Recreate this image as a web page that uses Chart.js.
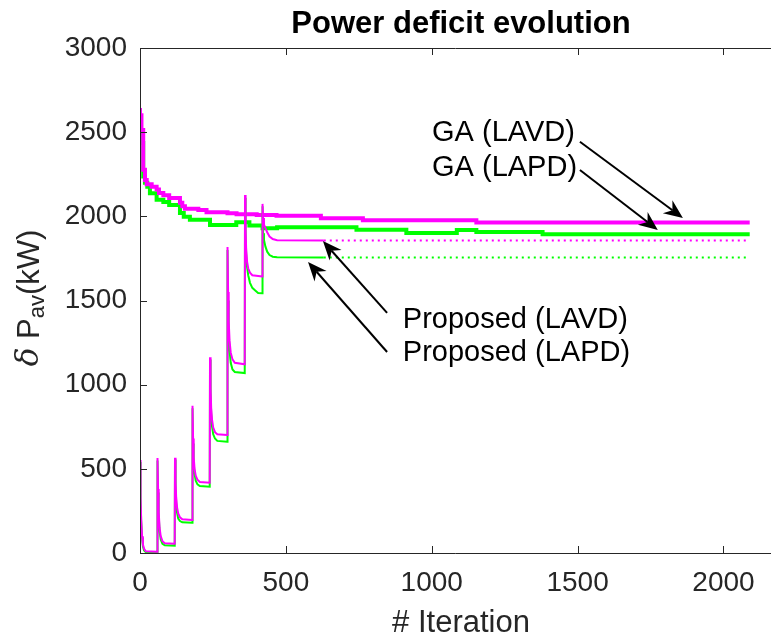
<!DOCTYPE html>
<html>
<head>
<meta charset="utf-8">
<script src="https://cdn.jsdelivr.net/npm/chart.js@4.4.1/dist/chart.umd.min.js"></script>
<style>
  html, body { margin: 0; padding: 0; background: #fff; }
  canvas { display: block; }
</style>
</head>
<body>
<canvas id="deficitChart" width="771" height="639"></canvas>
<script>
// GA best-so-far curves (stepped)
const gaLavdIter = [0, 5, 11, 17, 23, 40, 57, 65, 80, 100, 137, 145, 154, 200, 228, 300, 331, 400, 468, 620, 764, 1153, 1552, 2090];
const gaLavdVal  = [2644, 2600, 2513, 2276, 2216, 2190, 2176, 2160, 2139, 2125, 2109, 2080, 2060, 2045, 2038, 2025, 2018, 2012, 2008, 2004, 1989, 1976, 1963, 1963];

const gaLapdIter = [0, 6, 11, 17, 25, 34, 57, 80, 100, 137, 150, 171, 240, 330, 375, 420, 470, 742, 913, 1086, 1153, 1380, 1558, 2090];
const gaLapdVal  = [2555, 2500, 2436, 2236, 2200, 2176, 2137, 2099, 2085, 2068, 2020, 1998, 1979, 1948, 1965, 1945, 1929, 1935, 1921, 1901, 1919, 1907, 1894, 1894];

// proposed method (restarts every 60 iterations)
const propLavdIter = [0, 2, 4, 7, 10, 14, 20, 59,
  60, 62, 64, 67, 71, 77, 85, 119,
  120, 122, 124, 127, 131, 137, 145, 179,
  180, 182, 184, 187, 191, 197, 205, 239,
  240, 242, 244, 247, 251, 257, 265, 299,
  300, 302, 304, 307, 311, 317, 325, 359,
  360, 362, 364, 367, 371, 377, 385, 419,
  420, 422, 425, 430, 436, 444, 455, 470, 630];
const propLavdVal = [552, 330, 200, 100, 50, 25, 10, 8,
  564, 380, 250, 150, 100, 70, 58, 55,
  566, 420, 330, 270, 235, 212, 200, 196,
  875, 680, 570, 500, 460, 435, 422, 418,
  1163, 980, 860, 790, 745, 718, 706, 701,
  1818, 1550, 1380, 1260, 1190, 1150, 1130, 1121,
  2127, 1920, 1800, 1730, 1690, 1665, 1650, 1642,
  2074, 1990, 1950, 1930, 1905, 1880, 1865, 1858, 1856];

const propLapdIter = [0, 2, 4, 7, 10, 14, 20, 59,
  60, 62, 64, 67, 71, 77, 85, 119,
  120, 122, 124, 127, 131, 137, 145, 179,
  180, 182, 184, 187, 191, 197, 205, 239,
  240, 242, 244, 247, 251, 257, 265, 299,
  300, 302, 304, 307, 311, 317, 325, 359,
  360, 362, 364, 367, 371, 377, 385, 395, 405, 419,
  420, 422, 425, 430, 436, 444, 455, 470, 630];
const propLapdVal = [540, 320, 190, 90, 40, 15, 5, 3,
  550, 360, 230, 130, 80, 55, 46, 44,
  555, 400, 300, 240, 205, 190, 182, 180,
  860, 650, 540, 470, 430, 408, 398, 394,
  1150, 950, 830, 750, 705, 680, 666, 661,
  1800, 1500, 1320, 1200, 1130, 1090, 1075, 1069,
  2110, 1900, 1780, 1700, 1650, 1605, 1575, 1560, 1545, 1543,
  2060, 1900, 1860, 1820, 1790, 1770, 1760, 1757, 1755];

// converged level held after the proposed method stops
const holdIter = [630, 2090];
const holdLavd = [1856, 1856];
const holdLapd = [1755, 1755];

const xTicks = [0, 500, 1000, 1500, 2000];
const yTicks = [0, 500, 1000, 1500, 2000, 2500, 3000];

// text labels with arrows, in data units
const noteText = ["GA (LAVD)", "GA (LAPD)", "Proposed (LAVD)", "Proposed (LAPD)"];
const noteIter = [1001, 1001, 901, 901];
const noteVal  = [2495, 2287, 1384, 1188];
const arrowFromIter = [1508, 1508, 847, 847];
const arrowFromVal  = [2443, 2275, 1426, 1194];
const arrowToIter   = [1861, 1775, 627, 576];
const arrowToVal    = [1990, 1919, 1853, 1729];

const MAGENTA = "#ff00ff";
const GREEN = "#00ff00";
const INK = "#262626";
const FONT = "'Liberation Sans', Arial, Helvetica, sans-serif";

function pts(xs, ys) {
  return xs.map((x, i) => ({ x: x, y: ys[i] }));
}

function drawArrow(ctx, x0, y0, x1, y1) {
  const ang = Math.atan2(y1 - y0, x1 - x0);
  const len = 19, half = 8, back = 13;
  const bx = x1 - len * Math.cos(ang), by = y1 - len * Math.sin(ang);
  const nx = x1 - back * Math.cos(ang), ny = y1 - back * Math.sin(ang);
  ctx.beginPath();
  ctx.moveTo(x0, y0);
  ctx.lineTo(nx, ny);
  ctx.lineWidth = 2;
  ctx.strokeStyle = "#000";
  ctx.stroke();
  ctx.beginPath();
  ctx.moveTo(x1, y1);
  ctx.lineTo(bx - half * Math.sin(ang), by + half * Math.cos(ang));
  ctx.lineTo(nx, ny);
  ctx.lineTo(bx + half * Math.sin(ang), by - half * Math.cos(ang));
  ctx.closePath();
  ctx.fillStyle = "#000";
  ctx.fill();
}

const decorations = {
  id: "decorations",
  afterDraw(chart) {
    const ctx = chart.ctx;
    const xs = chart.scales.x, ys = chart.scales.y;
    const a = chart.chartArea;
    ctx.save();

    // axes box and inward ticks
    ctx.strokeStyle = INK;
    ctx.lineWidth = 1;
    ctx.beginPath();
    ctx.moveTo(a.left + 0.5, a.top + 0.5);
    ctx.lineTo(a.left + 0.5, a.bottom + 0.5);
    ctx.lineTo(chart.width, a.bottom + 0.5);
    ctx.moveTo(a.left, a.top + 0.5);
    ctx.lineTo(chart.width, a.top + 0.5);
    xTicks.forEach(t => {
      const px = Math.round(xs.getPixelForValue(t)) + 0.5;
      ctx.moveTo(px, a.bottom);
      ctx.lineTo(px, a.bottom - 7);
      ctx.moveTo(px, a.top);
      ctx.lineTo(px, a.top + 7);
    });
    yTicks.forEach(t => {
      const py = Math.round(ys.getPixelForValue(t)) + 0.5;
      ctx.moveTo(a.left, py);
      ctx.lineTo(a.left + 7, py);
    });
    ctx.stroke();

    // title and x label, centred on the full (cropped) axes box
    const cx = 461;
    ctx.fillStyle = "#000";
    ctx.font = "bold 31px " + FONT;
    ctx.textAlign = "center";
    ctx.textBaseline = "middle";
    ctx.fillText("Power deficit evolution", cx, 24);

    ctx.fillStyle = INK;
    ctx.font = "31px " + FONT;
    ctx.fillText("# Iteration", cx, 623);

    // y label with subscript
    ctx.save();
    ctx.translate(30, 298);
    ctx.rotate(-Math.PI / 2);
    ctx.textAlign = "left";
    ctx.textBaseline = "middle";
    const parts = [
      { t: "\u03b4", f: "italic 31px 'DejaVu Serif', serif", dy: 0 },
      { t: " P", f: "31px " + FONT, dy: 0 },
      { t: "av", f: "22px " + FONT, dy: 8 },
      { t: "(kW)", f: "31px " + FONT, dy: 0 }
    ];
    let total = 0;
    parts.forEach(p => { ctx.font = p.f; total += ctx.measureText(p.t).width; });
    let off = -total / 2;
    parts.forEach(p => {
      ctx.font = p.f;
      ctx.fillText(p.t, off, p.dy);
      off += ctx.measureText(p.t).width;
    });
    ctx.restore();

    // annotations
    ctx.font = "29px " + FONT;
    ctx.fillStyle = "#000";
    ctx.textAlign = "left";
    ctx.textBaseline = "middle";
    noteText.forEach((txt, i) => {
      ctx.fillText(txt, xs.getPixelForValue(noteIter[i]), ys.getPixelForValue(noteVal[i]));
      drawArrow(ctx,
        xs.getPixelForValue(arrowFromIter[i]), ys.getPixelForValue(arrowFromVal[i]),
        xs.getPixelForValue(arrowToIter[i]), ys.getPixelForValue(arrowToVal[i]));
    });
    ctx.restore();
  }
};

const ctx = document.getElementById("deficitChart").getContext("2d");

new Chart(ctx, {
  type: "line",
  data: {
    datasets: [
      { data: pts(propLavdIter, propLavdVal), borderColor: MAGENTA, borderWidth: 2 },
      { data: pts(propLapdIter, propLapdVal), borderColor: GREEN, borderWidth: 2 },
      { data: pts(holdIter, holdLavd), borderColor: MAGENTA, borderWidth: 2, borderDash: [2, 4] },
      { data: pts(holdIter, holdLapd), borderColor: GREEN, borderWidth: 2, borderDash: [2, 4] },
      { data: pts(gaLavdIter, gaLavdVal), borderColor: MAGENTA, borderWidth: 4, stepped: "after" },
      { data: pts(gaLapdIter, gaLapdVal), borderColor: GREEN, borderWidth: 4, stepped: "after" }
    ]
  },
  options: {
    responsive: false,
    animation: false,
    elements: {
      point: { radius: 0 },
      line: { tension: 0, fill: false }
    },
    layout: { padding: { top: 48, right: 0, left: 0, bottom: 0 } },
    plugins: {
      legend: { display: false },
      tooltip: { enabled: false },
      title: { display: false }
    },
    scales: {
      x: {
        type: "linear",
        min: 0,
        max: 2163,
        grid: { display: false, drawTicks: false },
        border: { display: false },
        afterBuildTicks: s => { s.ticks = xTicks.map(v => ({ value: v })); },
        ticks: {
          maxRotation: 0,
          autoSkip: false,
          padding: 13,
          color: INK,
          font: { family: FONT, size: 28 },
          callback: v => String(v)
        },
        afterFit: s => { s.height = 86; }
      },
      y: {
        type: "linear",
        min: 0,
        max: 3000,
        grid: { display: false, drawTicks: false },
        border: { display: false },
        afterBuildTicks: s => { s.ticks = yTicks.map(v => ({ value: v })); },
        ticks: {
          autoSkip: false,
          padding: 13,
          color: INK,
          font: { family: FONT, size: 28 },
          callback: v => String(v)
        },
        afterFit: s => { s.width = 140; }
      }
    }
  },
  plugins: [decorations]
});
</script>
</body>
</html>
